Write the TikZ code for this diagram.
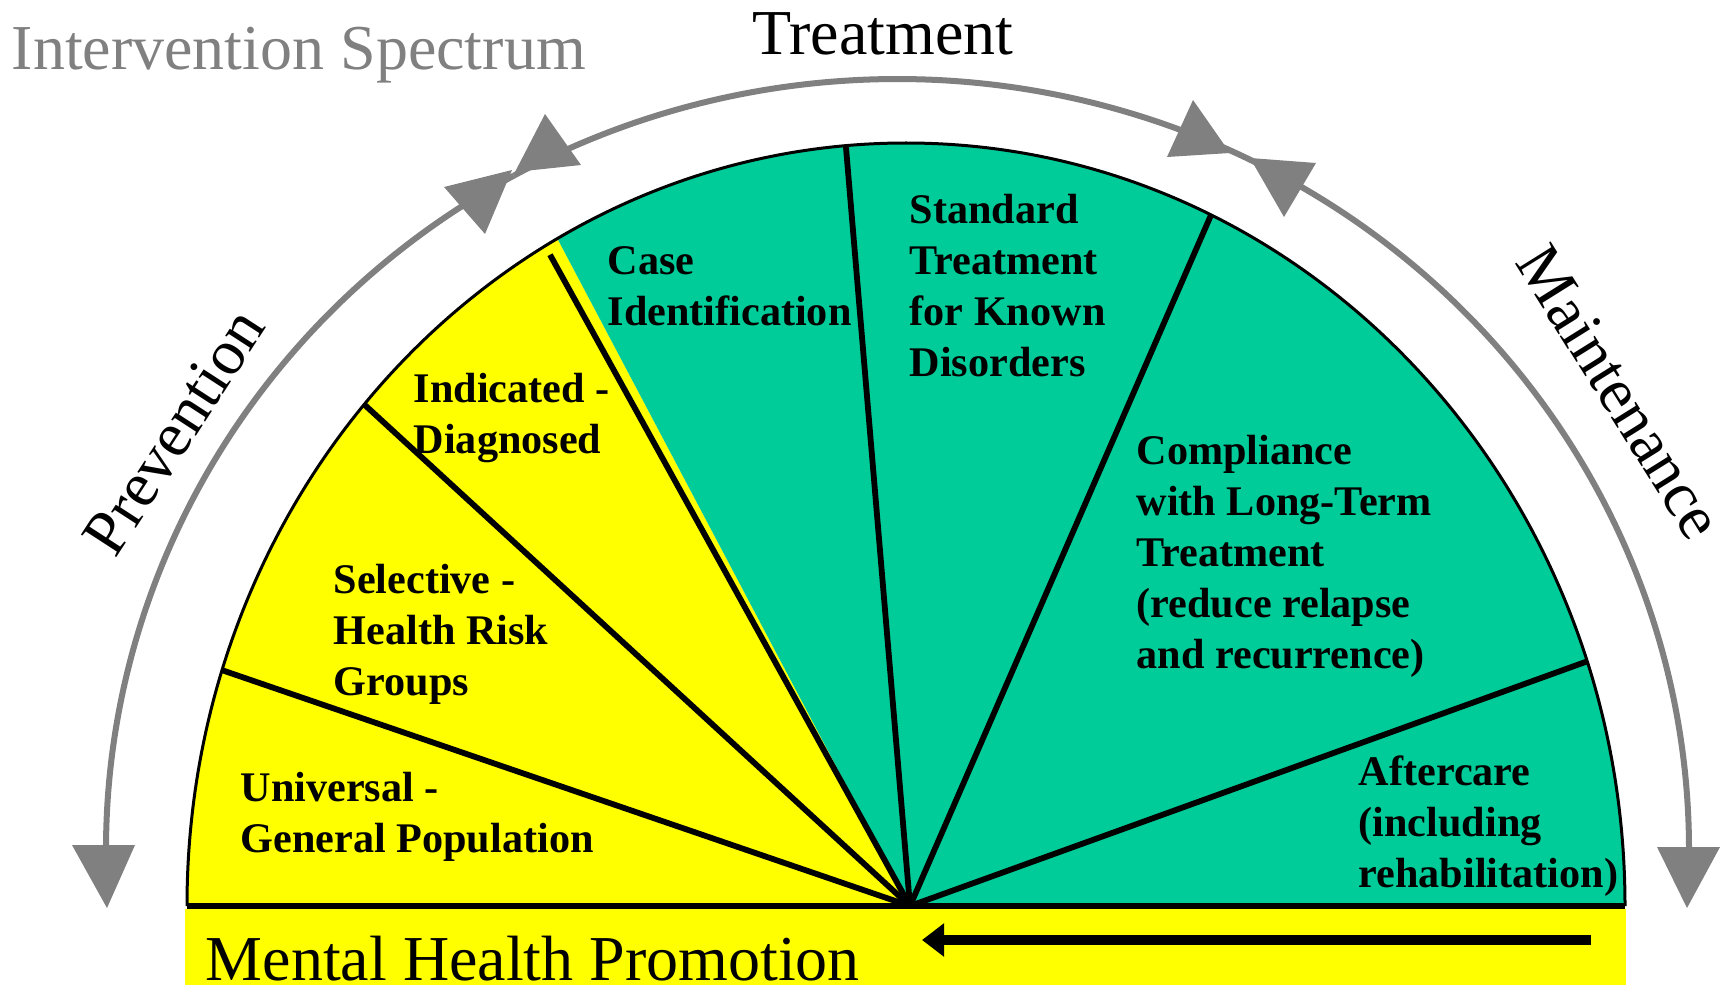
\documentclass[tikz,border=0pt]{standalone}
\usepackage{fontspec}
\setmainfont{Liberation Serif}
\usetikzlibrary{arrows.meta,calc}
\definecolor{fanyellow}{RGB}{255,255,0}
\definecolor{fanteal}{RGB}{0,204,153}
\definecolor{arcgray}{RGB}{128,128,128}
\begin{document}
\begin{tikzpicture}[x=0.01cm,y=-0.01cm]
        \useasboundingbox (0,0) rectangle (1721,985);
        \coordinate (E) at (906,906);
        \coordinate (O) at (910,906);
        \coordinate (G) at (897.5,850);
        \coordinate (bl) at (187,906);
        \coordinate (br) at (1625,906);
        \coordinate (d1) at ($(E)+(198:719 and 763)$);
        \coordinate (d2) at ($(E)+(221.1:719 and 763)$);
        \coordinate (d3) at ($(E)+(240:712 and 752)$);
        \coordinate (d4) at ($(E)+(265.2:719 and 763)$);
        \coordinate (d5) at ($(E)+(295.1:719 and 763)$);
        \coordinate (d6) at ($(E)+(341.3:719 and 763)$);
        \fill[fanyellow] (185,909) rectangle (1626,990);
        \fill[fanyellow] (O) -- (bl) arc[start angle=180,end angle=241,x radius=719,y radius=763] -- cycle;
        \fill[fanteal] (O) -- ($(E)+(241:719 and 763)$) arc[start angle=241,end angle=360,x radius=719,y radius=763] -- cycle;
        \draw[line width=0.03cm] (bl) arc[start angle=180,end angle=360,x radius=719,y radius=763];
        \draw[line width=0.06cm] (bl) -- (br);
        \begin{scope}[every edge/.style={draw,line width=0.058cm}]
            \path
                (O) edge (d1)
                (O) edge (d2)
                (O) edge (d3)
                (O) edge (d4)
                (O) edge (d5)
                (O) edge (d6);
        \end{scope}
        \begin{scope}[arcgray,line width=0.06cm]
            \draw ($(G)+(241:791.5 and 771)$) arc[start angle=241,end angle=180,x radius=791.5,y radius=771];
            \draw ($(G)+(241:791.5 and 771)$) arc[start angle=241,end angle=294,x radius=791.5,y radius=771];
            \draw ($(G)+(294:791.5 and 771)$) arc[start angle=294,end angle=360,x radius=791.5,y radius=771];
            \fill (72,845) -- (135,845) -- (107,908) -- cycle;
            \fill (1657,847) -- (1720,847) -- (1687,908) -- cycle;
            \fill (545,114) -- (515,172) -- (581,165) -- cycle;
            \fill (485,234) -- (444,187) -- (512,170) -- cycle;
            \fill (1193,100) -- (1167,157) -- (1230,153) -- cycle;
            \fill (1284,217) -- (1250,158) -- (1316,163) -- cycle;
        \end{scope}
        \coordinate (a1) at (1591,940);
        \coordinate (a2) at (922,940);
        \draw[line width=0.10cm,-{Triangle[length=0.22cm,width=0.32cm]}] (a1) -- (a2);
        \begin{scope}[every node/.style={font=\bfseries\fontsize{12pt}{14.5pt}\selectfont,align=left,anchor=north west,inner sep=0pt}]
            \node (univ) at (240,765) {\strut Universal -\\General Population};
            \node (sel) at (333,557) {\strut Selective -\\Health Risk\\Groups};
            \node (ind) at (413,366) {\strut Indicated -\\Diagnosed};
            \node (case) at (607,238) {\strut Case\\Identification};
            \node (std) at (909,187) {\strut Standard\\Treatment\\for Known\\Disorders};
            \node (comp) at (1136,428) {\strut Compliance\\with Long-Term\\Treatment\\(reduce relapse\\and recurrence)};
            \node (after) at (1358,749) {\strut Aftercare\\(including\\rehabilitation)};
        \end{scope}
        \begin{scope}[every node/.style={font=\fontsize{18.2pt}{22pt}\selectfont,inner sep=0pt}]
            \node[anchor=base west,arcgray] (spec) at (11,70) {Intervention Spectrum};
            \node[anchor=base west] (treat) at (752,55) {Treatment};
            \node[anchor=base west] (promo) at (205,980) {Mental Health Promotion};
            \node[rotate=57] (prev) at (174,432) {Prevention};
            \node[rotate=-58] (maint) at (1620,392) {Maintenance};
        \end{scope}
    \end{tikzpicture}
\end{document}
